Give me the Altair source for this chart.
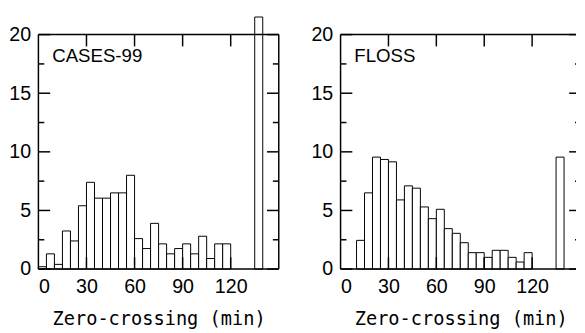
import altair as alt
import pandas as pd

bin_starts = list(range(0, 150, 5))
cases99 = [0.2, 1.3, 0.4, 3.25, 2.4, 5.4, 7.4, 6.05, 6.05, 6.5, 6.5, 8.0, 2.6, 1.75, 3.9,
           2.15, 1.3, 1.75, 2.15, 1.3, 2.8, 0.9, 2.15, 2.15, 0, 0, 0, 21.5, 0, 0]
floss = [0, 0, 2.45, 6.5, 9.55, 9.35, 9.15, 5.9, 7.1, 6.9, 5.3, 4.3, 5.1, 3.45, 3.05,
         2.25, 1.4, 1.4, 1.0, 1.6, 1.6, 1.0, 0.6, 1.4, 0, 0, 0, 9.55, 0, 0]
x_labels = [0, 30, 60, 90, 120]
y_labels = [0, 5, 10, 15, 20]
y_minor = [2.5, 7.5, 12.5, 17.5]
x_major = [30, 60, 90, 120]

H = 239
FULL_W = 245  # width of a full 0-150 panel
NUM_FONT = "Liberation Sans"
TITLE_FONT = "DejaVu Sans Mono"
LW = 1.5

ys = alt.Scale(domain=[0, 20], nice=False)
y_axis = alt.Axis(values=y_labels, title=None, ticks=False, domain=False, grid=False,
                  labelFont=NUM_FONT, labelFontSize=20, labelPadding=8,
                  labelColor="black")


def panel(values, label, xmax, W, right_frame):
    xs = alt.Scale(domain=[0, xmax], nice=False, zero=False)
    x_axis = alt.Axis(values=x_labels, title="Zero-crossing (min)", ticks=False,
                      domain=False, grid=False, labelFont=NUM_FONT, labelFontSize=20,
                      labelPadding=8, labelColor="black", titleFont=TITLE_FONT,
                      titleFontSize=19, titleFontWeight="normal", titleColor="black",
                      titlePadding=13, titleX=FULL_W / 2)
    df = pd.DataFrame({"start": bin_starts, "end": [s + 5 for s in bin_starts], "count": values})
    df = df[df["count"] > 0]
    bars = alt.Chart(df).mark_bar(fill="white", stroke="black", strokeWidth=1).encode(
        x=alt.X("start:Q", scale=xs, axis=x_axis), x2="end:Q",
        y=alt.Y("count:Q", scale=ys, axis=y_axis), y2=alt.datum(0))

    ymaj = pd.DataFrame({"v": y_labels})
    ymin = pd.DataFrame({"v": y_minor})
    xmaj = pd.DataFrame({"v": x_major})
    tick_style = dict(color="black", strokeWidth=LW)
    yv = alt.Y("v:Q", scale=ys, axis=y_axis)
    xv = alt.X("v:Q", scale=xs, axis=x_axis)
    one = pd.DataFrame({"v": [0]})
    layers = [bars]
    # frame
    layers.append(alt.Chart(one).mark_rule(**tick_style).encode(x=alt.value(0), y=alt.value(0), y2=alt.value(H)))
    layers.append(alt.Chart(one).mark_rule(**tick_style).encode(x=alt.value(0), x2=alt.value(W), y=alt.value(0)))
    layers.append(alt.Chart(one).mark_rule(**tick_style).encode(x=alt.value(0), x2=alt.value(W), y=alt.value(H)))
    if right_frame:
        layers.append(alt.Chart(one).mark_rule(**tick_style).encode(x=alt.value(W), y=alt.value(0), y2=alt.value(H)))
    # ticks
    layers.append(alt.Chart(ymaj).mark_rule(**tick_style).encode(y=yv, x=alt.value(0), x2=alt.value(12)))
    layers.append(alt.Chart(ymaj).mark_rule(**tick_style).encode(
        y=yv, x=alt.value(FULL_W - 12), x2=alt.value(min(W, FULL_W))))
    layers.append(alt.Chart(ymin).mark_rule(**tick_style).encode(y=yv, x=alt.value(0), x2=alt.value(6)))
    layers.append(alt.Chart(ymin).mark_rule(**tick_style).encode(
        y=yv, x=alt.value(FULL_W - 6), x2=alt.value(min(W, FULL_W))))
    layers.append(alt.Chart(xmaj).mark_rule(**tick_style).encode(x=xv, y=alt.value(0), y2=alt.value(12)))
    layers.append(alt.Chart(xmaj).mark_rule(**tick_style).encode(x=xv, y=alt.value(H - 12), y2=alt.value(H)))
    lab = pd.DataFrame({"x": [8.6], "y": [18.2], "t": [label]})
    layers.append(alt.Chart(lab).mark_text(align="left", baseline="middle", font=NUM_FONT,
                                           fontSize=19, color="black").encode(
        x=alt.X("x:Q", scale=xs, axis=x_axis), y=alt.Y("y:Q", scale=ys, axis=y_axis), text="t:N"))
    return alt.layer(*layers).properties(width=W, height=H)


chart = alt.hconcat(
    panel(cases99, "CASES-99", 150, FULL_W, True),
    panel(floss, "FLOSS", 147.5, 240, False),
    spacing=31,
).properties(
    padding={"left": 0, "top": 5, "right": 0, "bottom": 0}
).configure_view(stroke=None)

chart.save("out.html", embed_options={"renderer": "svg", "actions": False})
